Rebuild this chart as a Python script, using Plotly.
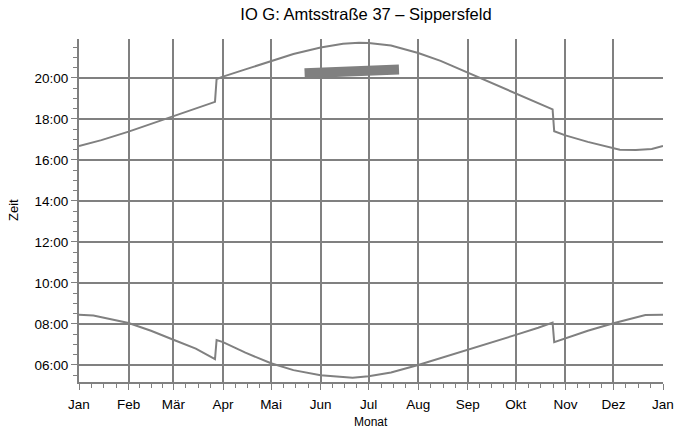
"""Sonnenauf-/untergang mit Verschattung – IO G Sippersfeld."""
import pandas as pd
import plotly.graph_objects as go

# ---------- data ----------
sunset_dates = [
    "2021-01-01", "2021-01-15", "2021-02-01", "2021-02-15", "2021-03-01",
    "2021-03-15", "2021-03-27", "2021-03-28", "2021-04-01", "2021-04-15",
    "2021-05-01", "2021-05-15", "2021-06-01", "2021-06-15", "2021-06-25",
    "2021-07-01", "2021-07-15", "2021-08-01", "2021-08-15", "2021-09-01",
    "2021-09-15", "2021-10-01", "2021-10-15", "2021-10-24", "2021-10-25",
    "2021-11-01", "2021-11-15", "2021-12-01", "2021-12-05", "2021-12-15",
    "2021-12-25", "2022-01-01",
]
sunset_times = [
    "16:41", "16:58", "17:23", "17:45", "18:08",
    "18:30", "18:50", "19:57", "20:04", "20:25",
    "20:50", "21:10", "21:29", "21:40", "21:43",
    "21:42", "21:35", "21:13", "20:50", "20:15",
    "19:46", "19:13", "18:46", "18:28", "17:24",
    "17:12", "16:53", "16:36", "16:30", "16:29",
    "16:32", "16:41",
]

sunrise_dates = [
    "2021-01-01", "2021-01-10", "2021-02-01", "2021-02-15", "2021-03-01",
    "2021-03-15", "2021-03-27", "2021-03-28", "2021-04-01", "2021-04-15",
    "2021-05-01", "2021-05-15", "2021-06-01", "2021-06-15", "2021-06-21",
    "2021-07-01", "2021-07-15", "2021-08-01", "2021-08-15", "2021-09-01",
    "2021-09-15", "2021-10-01", "2021-10-15", "2021-10-24", "2021-10-25",
    "2021-11-01", "2021-11-15", "2021-12-01", "2021-12-15", "2021-12-21",
    "2022-01-01",
]
sunrise_times = [
    "08:27", "08:25", "08:03", "07:40", "07:14",
    "06:48", "06:17", "07:13", "07:07", "06:36",
    "06:05", "05:45", "05:30", "05:24", "05:23",
    "05:27", "05:38", "06:00", "06:20", "06:43",
    "07:03", "07:28", "07:49", "08:04", "07:07",
    "07:18", "07:40", "08:02", "08:20", "08:26",
    "08:27",
]

# Schattenwurf-Zeitraum (dicker Balken)
shadow_dates = ["2021-05-22", "2021-06-10", "2021-06-26", "2021-06-27", "2021-07-20"]
shadow_times = ["20:14", "20:17", "20:20", "20:25", "20:25"]

month_labels = ["Jan", "Feb", "Mär", "Apr", "Mai", "Jun", "Jul",
                "Aug", "Sep", "Okt", "Nov", "Dez", "Jan"]
hour_labels = ["06:00", "08:00", "10:00", "12:00", "14:00", "16:00", "18:00", "20:00"]


def to_hours(times):
    return [int(t[:2]) + int(t[3:]) / 60 for t in times]


GREY = "#808080"
L, R, T, B = 79, 663, 39, 382  # plot area in pixels

month_starts = pd.date_range("2021-01-01", "2022-01-01", freq="MS")
minor_ticks = []
for a, b in zip(month_starts[:-1], month_starts[1:]):
    step = (b - a) / 4
    minor_ticks += [a + step * k for k in (1, 2, 3)]

fig = go.Figure()
for x, y, w in [
    (sunset_dates, sunset_times, 2),
    (sunrise_dates, sunrise_times, 2),
    (shadow_dates, shadow_times, 10),
]:
    fig.add_trace(go.Scatter(
        x=pd.to_datetime(x), y=to_hours(y), mode="lines",
        line=dict(color=GREY, width=w), showlegend=False, hoverinfo="skip",
    ))

fig.update_layout(
    width=677, height=432,
    margin=dict(l=L, r=677 - R, t=T, b=432 - B, autoexpand=False),
    paper_bgcolor="white", plot_bgcolor="white",
    font=dict(family="Liberation Sans, Arial, sans-serif", size=13.5, color="black"),
    title=dict(text="IO G: Amtsstraße 37 – Sippersfeld", x=366 / 677, xref="container",
               xanchor="center", y=1 - 14 / 432, yref="container", yanchor="middle",
               font=dict(size=16.5)),
    showlegend=False,
)
fig.update_xaxes(
    type="date", range=["2021-01-01", "2022-01-01"], automargin=False,
    tickvals=month_starts, ticktext=month_labels, ticklabelstandoff=3,
    showgrid=True, gridcolor=GREY, gridwidth=2,
    showline=True, linecolor=GREY, linewidth=2,
    ticks="outside", ticklen=6, tickcolor=GREY, tickwidth=1,
    minor=dict(tickvals=minor_ticks, ticks="outside", ticklen=4,
               tickcolor=GREY, tickwidth=1, showgrid=False),
    zeroline=False,
)
fig.update_yaxes(
    range=[5.17, 21.9], automargin=False,
    tickvals=[6, 8, 10, 12, 14, 16, 18, 20], ticktext=hour_labels,
    showgrid=True, gridcolor=GREY, gridwidth=2,
    showline=True, linecolor=GREY, linewidth=2,
    ticks="outside", ticklen=6, tickcolor=GREY, tickwidth=1,
    minor=dict(dtick=0.5, tick0=0, ticks="outside", ticklen=4,
               tickcolor=GREY, tickwidth=1, showgrid=False),
    zeroline=False,
)
# axis titles placed at their pixel positions (converted to paper coordinates)
fig.add_annotation(text="Zeit", textangle=-90, xref="paper", yref="paper",
                   x=(14 - L) / (R - L), y=(B - 210) / (B - T),
                   xanchor="center", yanchor="middle",
                   showarrow=False, font=dict(size=13))
fig.add_annotation(text="Monat", xref="paper", yref="paper",
                   x=(371 - L) / (R - L), y=(B - 422) / (B - T),
                   xanchor="center", yanchor="middle",
                   showarrow=False, font=dict(size=12))

# drop the page's default body margin so the figure sits at the window origin
fig.write_html("out.html", config={"displayModeBar": False},
               post_script="document.body.style.margin = '0px';")
